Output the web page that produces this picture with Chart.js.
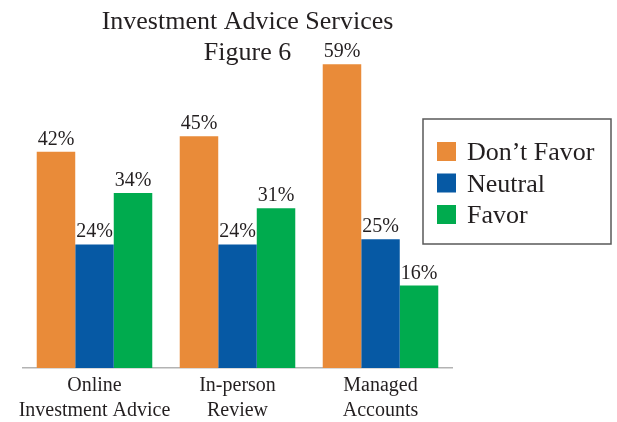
<!DOCTYPE html>
<html>
<head>
<meta charset="utf-8">
<script src="https://cdn.jsdelivr.net/npm/chart.js@4/dist/chart.umd.min.js"></script>
<style>
  html, body { margin: 0; padding: 0; background: #fff; }
  #wrap { width: 617px; height: 422px; }
</style>
</head>
<body>
<div id="wrap"><canvas id="adviceChart" width="617" height="422"></canvas></div>
<script>
const categories = [['Online', 'Investment Advice'], ['In-person', 'Review'], ['Managed', 'Accounts']];
const dontFavor = [42, 45, 59];
const neutral = [24, 24, 25];
const favor = [34, 31, 16];
const seriesNames = ["Don\u2019t Favor", 'Neutral', 'Favor'];
const seriesColors = ['#E98B39', '#0659A4', '#00AB4E'];
const titleLines = ['Investment Advice Services', 'Figure 6'];

const serif = "'Liberation Serif', 'DejaVu Serif', serif";
const ink = '#231F20';

// title, value labels and the boxed legend are drawn here
const decorations = {
  id: 'decorations',
  afterDatasetsDraw(chart) {
    const ctx = chart.ctx;
    ctx.save();
    ctx.fillStyle = ink;

    ctx.font = '26px ' + serif;
    ctx.textAlign = 'center';
    ctx.textBaseline = 'alphabetic';
    ctx.fillText(titleLines[0], 247.5, 29);
    ctx.fillText(titleLines[1], 247.5, 60);

    ctx.font = '20px ' + serif;
    chart.data.datasets.forEach((ds, i) => {
      const meta = chart.getDatasetMeta(i);
      meta.data.forEach((bar, j) => {
        ctx.fillText(ds.data[j] + '%', bar.x, bar.y - 7);
      });
    });

    ctx.strokeStyle = '#595959';
    ctx.lineWidth = 1.5;
    ctx.strokeRect(423, 119, 188, 125);
    ctx.font = '26px ' + serif;
    ctx.textAlign = 'left';
    chart.data.datasets.forEach((ds, i) => {
      const top = 142 + i * 31.5;
      ctx.fillStyle = ds.backgroundColor;
      ctx.fillRect(437, top, 19, 19);
      ctx.fillStyle = ink;
      ctx.fillText(ds.label, 467, top + 18);
    });
    ctx.restore();
  }
};

new Chart(document.getElementById('adviceChart'), {
  type: 'bar',
  data: {
    labels: categories,
    datasets: [
      { label: seriesNames[0], data: dontFavor, backgroundColor: seriesColors[0] },
      { label: seriesNames[1], data: neutral, backgroundColor: seriesColors[1] },
      { label: seriesNames[2], data: favor, backgroundColor: seriesColors[2] },
    ],
  },
  options: {
    responsive: false,
    animation: false,
    devicePixelRatio: 1,
    layout: { padding: { left: 23, right: 165, top: 59, bottom: 0 } },
    datasets: {
      bar: { barPercentage: 1, categoryPercentage: 0.808 },
    },
    plugins: {
      legend: { display: false },
      title: { display: false },
      tooltip: { enabled: false },
    },
    scales: {
      x: {
        grid: { display: false, drawTicks: false },
        border: { display: true, color: '#b3b3b3', width: 1.5 },
        ticks: {
          color: ink,
          padding: 5,
          maxRotation: 0,
          minRotation: 0,
          autoSkip: false,
          font: { family: serif, size: 20, lineHeight: 1.25 },
        },
        afterFit(scale) {
          scale.height = 54;
          scale.paddingLeft = 0;
          scale.paddingRight = 0;
        },
      },
      y: {
        display: false,
        min: 0,
        max: 60,
      },
    },
  },
  plugins: [decorations],
});
</script>
</body>
</html>
